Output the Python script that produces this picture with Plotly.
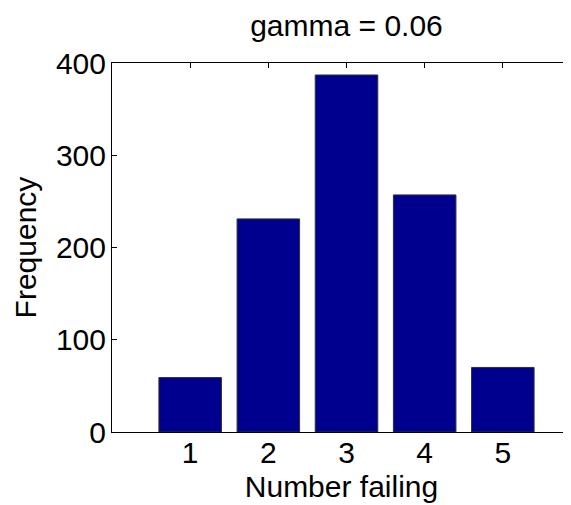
import plotly.graph_objects as go

categories = [1, 2, 3, 4, 5]
frequency = [59, 231, 387, 257, 70]
y_ticks = [0, 100, 200, 300, 400]
title_text = "gamma = 0.06"
x_label = "Number failing"
y_label = "Frequency"

FONT = "Liberation Sans, Arial, sans-serif"

# page body has an 8px default margin; figure is sized to fit the window
W, H = 563, 497

fig = go.Figure(
    go.Bar(
        x=categories,
        y=frequency,
        width=0.8,
        marker=dict(color="#00008F", line=dict(color="#303030", width=1)),
    )
)

fig.update_layout(
    width=W,
    height=H,
    margin=dict(l=104, r=0, t=55, b=73),
    paper_bgcolor="white",
    plot_bgcolor="white",
    font=dict(family=FONT, size=30, color="black"),
    showlegend=False,
    title=dict(
        text=title_text,
        x=338.5 / W,
        xanchor="center",
        xref="container",
        y=1 - 17 / H,
        yanchor="middle",
        yref="container",
        font=dict(family=FONT, size=30, color="black"),
    ),
)

fig.update_xaxes(
    range=[0, 5.872],
    tickvals=categories,
    ticktext=[str(c) for c in categories],
    ticks="inside",
    ticklen=5,
    tickcolor="black",
    showline=True,
    linecolor="black",
    linewidth=1,
    mirror="allticks",
    showgrid=False,
    zeroline=False,
    layer="below traces",
    ticklabelstandoff=-6,
    title=dict(text=x_label, standoff=7, font=dict(size=30)),
    tickfont=dict(size=30),
    automargin=False,
)

fig.update_yaxes(
    range=[0, 400],
    tickvals=y_ticks,
    ticks="inside",
    ticklen=5,
    tickcolor="black",
    showline=True,
    linecolor="black",
    linewidth=1,
    mirror=False,
    showgrid=False,
    zeroline=False,
    ticklabelstandoff=-1,
    title=dict(text=y_label, standoff=10, font=dict(size=30)),
    tickfont=dict(size=30),
    automargin=False,
)

fig.write_html("out.html")
